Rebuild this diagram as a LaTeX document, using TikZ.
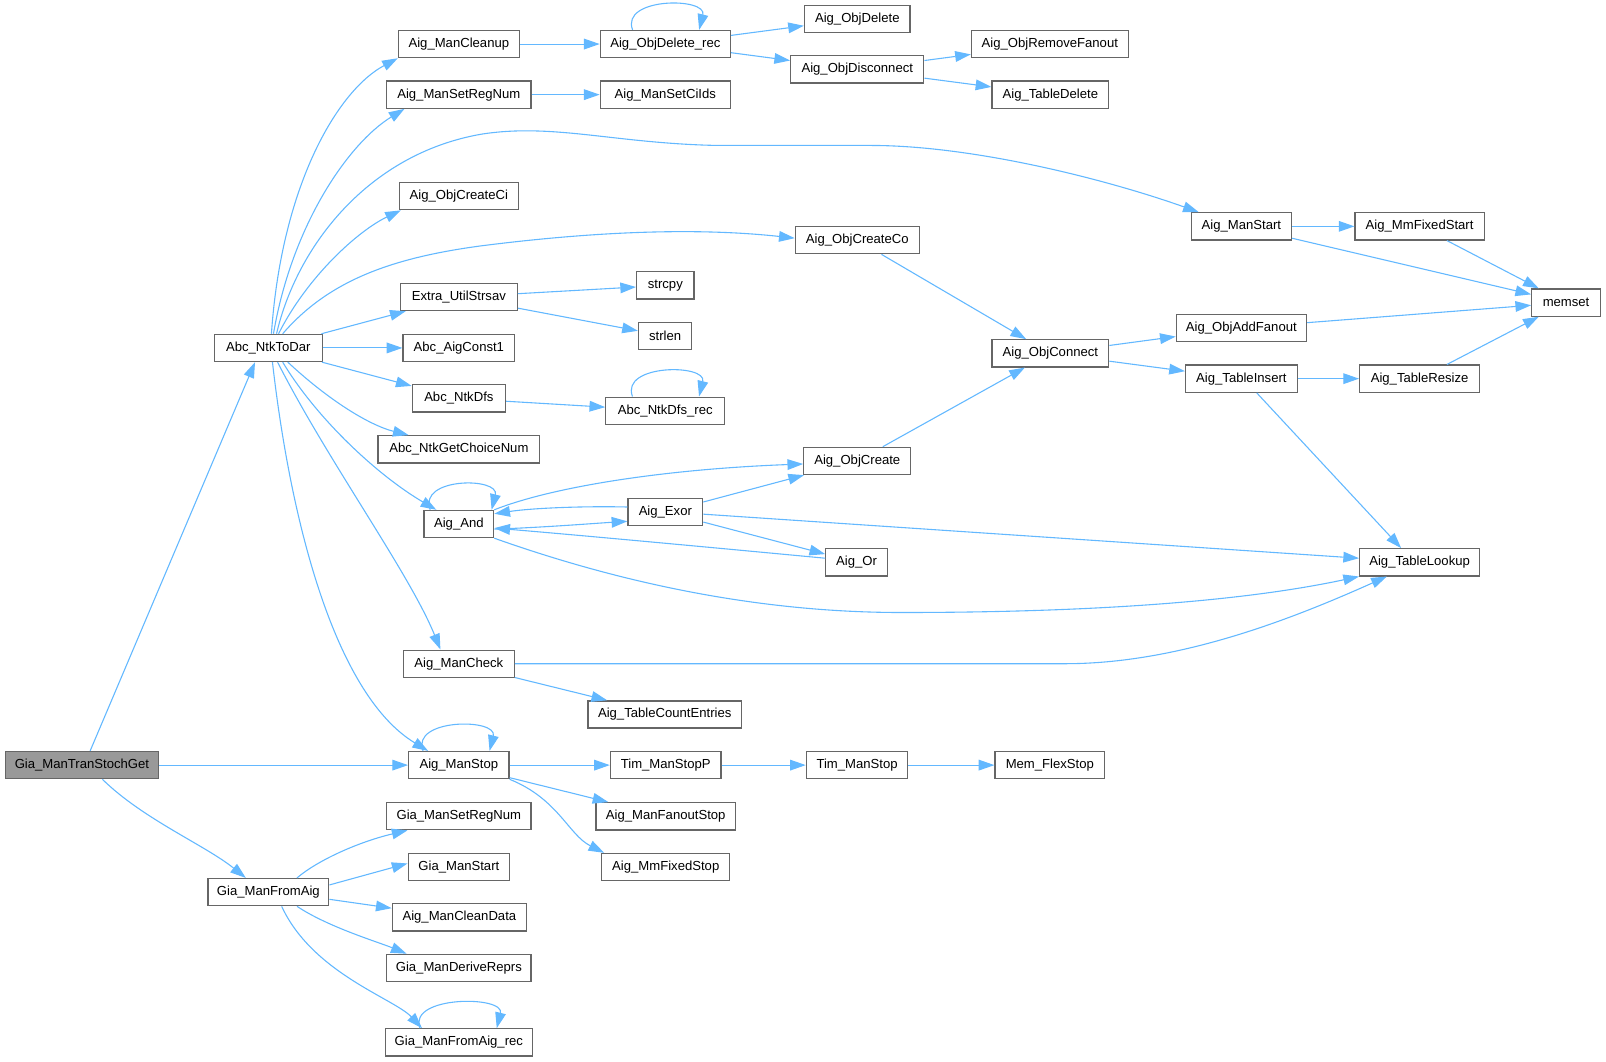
\documentclass[tikz,border=0pt]{standalone}
\usepackage{fontspec}
\setmainfont{Liberation Sans}
\usetikzlibrary{arrows.meta,calc}
\definecolor{edgec}{HTML}{63B8FF}
\definecolor{nodeb}{HTML}{666666}
\definecolor{rootf}{HTML}{999999}
\newcommand\mknode[5]{\node[nbox,minimum width=#4*0.75pt] (#1) at (#2,#3) {#5};}
\begin{document}
\begin{tikzpicture}[x=0.75pt,y=-0.75pt,
  nbox/.style={draw=nodeb, fill=white, line width=0.9pt, minimum height=19.9pt, inner sep=0pt, font=\fontsize{9.6pt}{11pt}\selectfont, text=black},
  cedge/.style={draw=edgec, line width=0.8pt, -{Triangle[length=11.5pt,width=7.8pt]}}]
\useasboundingbox (0,0) rectangle (1568,1036);
% nodes
\node[nbox, fill=rootf, minimum width=150*0.75pt] (gia) at (80,747) {Gia\_ManTranStochGet};
\mknode{ntk}{262}{339.7}{105}{Abc\_NtkToDar}
\mknode{gfa}{262}{871}{118}{Gia\_ManFromAig}
\mknode{mclean}{448}{43}{118}{Aig\_ManCleanup}
\mknode{msrn}{448}{92.4}{141}{Aig\_ManSetRegNum}
\mknode{occi}{448}{191.5}{116}{Aig\_ObjCreateCi}
\mknode{strsav}{448}{290}{114}{Extra\_UtilStrsav}
\mknode{const1}{448}{339.7}{109}{Abc\_AigConst1}
\mknode{dfs}{448}{389}{91}{Abc\_NtkDfs}
\mknode{choice}{448}{438.7}{158}{Abc\_NtkGetChoiceNum}
\mknode{and}{448}{511.6}{68}{Aig\_And}
\mknode{mcheck}{448}{648}{108}{Aig\_ManCheck}
\mknode{mstop}{448}{747}{98}{Aig\_ManStop}
\mknode{gsrn}{448}{796.8}{141}{Gia\_ManSetRegNum}
\mknode{gstart}{448}{846.5}{99}{Gia\_ManStart}
\mknode{mcd}{448.5}{895.7}{131}{Aig\_ManCleanData}
\mknode{gdr}{448}{945}{141}{Gia\_ManDeriveReprs}
\mknode{gfar}{448}{1017.7}{144}{Gia\_ManFromAig\_rec}
\mknode{odr}{649.6}{43}{127}{Aig\_ObjDelete\_rec}
\mknode{mscid}{649.6}{92.4}{127}{Aig\_ManSetCiIds}
\mknode{strcpy}{649.6}{278.6}{56}{strcpy}
\mknode{strlen}{649.4}{328}{52}{strlen}
\mknode{dfsrec}{649.5}{401}{116}{Abc\_NtkDfs\_rec}
\mknode{exor}{649.6}{500}{73}{Aig\_Exor}
\mknode{tce}{649}{697.6}{150}{Aig\_TableCountEntries}
\mknode{tmsp}{650}{747}{108}{Tim\_ManStopP}
\mknode{mfs}{650}{797}{136}{Aig\_ManFanoutStop}
\mknode{mmfs}{650}{846.5}{125}{Aig\_MmFixedStop}
\mknode{odel}{837}{18.3}{103}{Aig\_ObjDelete}
\mknode{odis}{837}{67.7}{130}{Aig\_ObjDisconnect}
\mknode{occo}{837}{234.5}{121}{Aig\_ObjCreateCo}
\mknode{ocr}{837}{450}{104.5}{Aig\_ObjCreate}
\mknode{aor}{836.3}{549}{60}{Aig\_Or}
\mknode{tms}{836.8}{747}{99}{Tim\_ManStop}
\mknode{orf}{1025}{43}{153}{Aig\_ObjRemoveFanout}
\mknode{tdel}{1025.5}{92.4}{114}{Aig\_TableDelete}
\mknode{ocon}{1025.5}{345}{114}{Aig\_ObjConnect}
\mknode{mfls}{1025}{747}{107}{Mem\_FlexStop}
\mknode{mstart}{1212}{221}{98}{Aig\_ManStart}
\mknode{oaf}{1212}{320}{127}{Aig\_ObjAddFanout}
\mknode{tins}{1212}{369.7}{109}{Aig\_TableInsert}
\mknode{mmfst}{1386}{221}{126}{Aig\_MmFixedStart}
\mknode{tres}{1386}{369.7}{117}{Aig\_TableResize}
\mknode{tlook}{1386}{549}{117}{Aig\_TableLookup}
\mknode{memset}{1529}{295.4}{67}{memset}
% edges from root
\draw[cedge] ($(gia.north)+(8,0)$) -- ($(ntk.south)+(-13,0)$);
\draw[cedge] (gia) -- (mstop);
\draw[cedge] ($(gia.south)+(20,0)$) .. controls (140,800) and (200,825) .. ($(gfa.north)+(-22,0)$);
% edges from Abc_NtkToDar
\draw[cedge] ($(ntk.north)+(3,0)$) .. controls (275,180) and (330,88) .. (mclean.south west);
\draw[cedge] ($(ntk.north)+(5,0)$) .. controls (285,220) and (340,140) .. ($(msrn.south west)+(18,0)$);
\draw[cedge] ($(ntk.north)+(8,0)$) .. controls (290,240) and (360,150) .. (470,131) .. controls (540,120) and (600,140) .. (700,142) -- (850,142) .. controls (950,142) and (1080,175) .. ($(mstart.north west)+(8,0)$);
\draw[cedge] ($(ntk.north)+(10,0)$) .. controls (300,270) and (350,225) .. ($(occi.south west)+(2,0)$);
\draw[cedge] ($(ntk.north)+(14,0)$) .. controls (320,275) and (380,252) .. (470,240) .. controls (580,226) and (680,222) .. ($(occo.west)+(0,-2)$);
\draw[cedge] (ntk) -- (strsav);
\draw[cedge] (ntk) -- (const1);
\draw[cedge] (ntk) -- (dfs);
\draw[cedge] ($(ntk.south)+(19,0)$) .. controls (320,390) and (360,415) .. ($(choice.north)+(-49,0)$);
\draw[cedge] ($(ntk.south)+(14,0)$) .. controls (310,410) and (370,465) .. ($(and.north)+(-22,0)$);
\draw[cedge] ($(ntk.south)+(9,0)$) .. controls (320,450) and (400,560) .. ($(mcheck.north)+(-18,0)$);
\draw[cedge] ($(ntk.south)+(4,0)$) .. controls (285,520) and (330,680) .. ($(mstop.north)+(-30,0)$);
% edges from Gia_ManFromAig
\draw[cedge] ($(gfa.north)+(28,0)$) .. controls (310,840) and (350,822) .. ($(gsrn.south west)+(21,0)$);
\draw[cedge] ($(gfa.east)+(0,-7)$) -- ($(gstart.west)+(0,-3.5)$);
\draw[cedge] ($(gfa.east)+(0,7)$) -- ($(mcd.west)+(0,-9)$);
\draw[cedge] ($(gfa.south)+(28,0)$) .. controls (320,905) and (370,920) .. ($(gdr.north)+(-51,0)$);
\draw[cedge] ($(gfa.south)+(13,0)$) .. controls (305,950) and (385,975) .. ($(gfar.north)+(-36,0)$);
% column 2 -> 3
\draw[cedge] (mclean) -- (odr);
\draw[cedge] (msrn) -- (mscid);
\draw[cedge] (strsav) -- (strcpy);
\draw[cedge] (strsav) -- (strlen);
\draw[cedge] (dfs) -- (dfsrec);
\draw[cedge] (mcheck) -- (tce);
\draw[cedge] (mcheck.east) -- (1040,648) .. controls (1150,648) and (1260,605) .. ($(tlook.south)+(-32,0)$);
\draw[cedge] (mstop) -- (tmsp);
\draw[cedge] (mstop) -- (mfs);
\draw[cedge] (mstop.south east) .. controls (545,780) and (555,815) .. ($(mmfs.north west)+(3,0)$);
% Aig_And cluster
\draw[cedge] (and.north east) .. controls (540,475) and (650,458) .. ($(ocr.west)+(0,3)$);
\draw[cedge] ($(and.east)+(0,5)$) .. controls (530,515) and (580,511) .. ($(exor.west)+(0,9)$);
\draw[cedge] ($(exor.west)+(0,-5)$) .. controls (570,494) and (520,496) .. ($(and.east)+(0,-10)$);
\draw[cedge] (exor) -- (ocr);
\draw[cedge] (exor) -- (aor);
\draw[cedge] ($(exor.east)+(0,2)$) -- ($(tlook.west)+(0,-4)$);
\draw[cedge] ($(aor.west)+(0,-4)$) .. controls (700,535) and (560,522) .. ($(and.east)+(0,4)$);
\draw[cedge] (and.south east) .. controls (580,560) and (720,598) .. (880,598) .. controls (1040,598) and (1200,590) .. (tlook.south west);
% column 3 -> 4 -> 5
\draw[cedge] (odr) -- (odel);
\draw[cedge] (odr) -- (odis);
\draw[cedge] (odis) -- (orf);
\draw[cedge] (odis) -- (tdel);
\draw[cedge] (occo) -- (ocon);
\draw[cedge] (ocr) -- (ocon);
\draw[cedge] (ocon) -- (oaf);
\draw[cedge] (ocon) -- (tins);
\draw[cedge] (oaf) -- (memset);
\draw[cedge] (tins) -- (tres);
\draw[cedge] ($(tins.south)+(15,0)$) -- ($(tlook.north)+(-18,0)$);
\draw[cedge] (tres) -- (memset);
\draw[cedge] (mstart) -- (mmfst);
\draw[cedge] (mstart) -- (memset);
\draw[cedge] (mmfst) -- (memset);
\draw[cedge] (tmsp) -- (tms);
\draw[cedge] (tms) -- (mfls);
% self loops
\draw[cedge] ($(odr.north)+(-32,0)$) .. controls +(-12,-32) and +(8,-32) .. ($(odr.north)+(33,0)$);
\draw[cedge] ($(dfsrec.north)+(-32,0)$) .. controls +(-12,-32) and +(8,-32) .. ($(dfsrec.north)+(33,0)$);
\draw[cedge] ($(and.north)+(-28,0)$) .. controls +(-12,-32) and +(8,-32) .. ($(and.north)+(32,0)$);
\draw[cedge] ($(mstop.north)+(-35,0)$) .. controls +(-12,-32) and +(8,-32) .. ($(mstop.north)+(30,0)$);
\draw[cedge] ($(gfar.north)+(-38,0)$) .. controls +(-12,-32) and +(8,-32) .. ($(gfar.north)+(37,0)$);
\end{tikzpicture}
\end{document}
